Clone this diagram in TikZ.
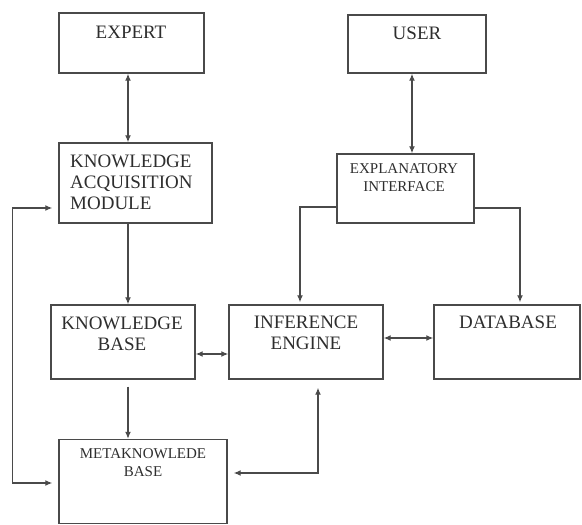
\documentclass[tikz,border=0pt]{standalone}
\usepackage{fontspec}
\setmainfont{Liberation Serif}
\usetikzlibrary{arrows.meta}
\definecolor{ln}{HTML}{4A4A4A}
\definecolor{tx}{HTML}{2E2E2E}
\begin{document}
\begin{tikzpicture}[x=1pt,y=-1pt,
  box/.style={draw=ln,line width=1.4pt,rectangle,inner sep=0pt},
  bigtxt/.style={text=tx,inner sep=0pt,font=\fontsize{19}{21}\selectfont},
  smalltxt/.style={text=tx,inner sep=0pt,font=\fontsize{15}{18}\selectfont},
  conn/.style={draw=ln,line width=1.3pt,>={Latex[length=7pt,width=6pt]}}]
\useasboundingbox (0,0) rectangle (582,525);
% boxes
\node[box,minimum width=145pt,minimum height=60pt] (expert) at (131.5,43) {};
\node[box,minimum width=138pt,minimum height=58pt] (user) at (417,44) {};
\node[box,minimum width=153pt,minimum height=80pt] (kam) at (135.5,183) {};
\node[box,minimum width=137pt,minimum height=69pt] (expl) at (405.5,188.5) {};
\node[box,minimum width=144pt,minimum height=74pt] (kb) at (123,342) {};
\node[box,minimum width=154pt,minimum height=74pt] (ie) at (306,342) {};
\node[box,minimum width=146pt,minimum height=74pt] (db) at (507,342) {};
\node[box,minimum width=168pt,minimum height=84pt] (mkb) at (143,481.5) {};
% texts
\node[bigtxt] (texpert) at (131,32) {EXPERT};
\node[bigtxt] (tuser) at (417,33) {USER};
\node[bigtxt,align=left,anchor=west] (tkam) at (70,182) {KNOWLEDGE\\ACQUISITION\\MODULE};
\node[smalltxt,align=center] (texpl) at (404,178) {EXPLANATORY\\INTERFACE};
\node[bigtxt,align=center] (tkb) at (122,333.5) {KNOWLEDGE\\BASE};
\node[bigtxt,align=center] (tie) at (306,332.5) {INFERENCE\\ENGINE};
\node[bigtxt] (tdb) at (508,322) {DATABASE};
\node[smalltxt,align=center] (tmkb) at (143,463) {METAKNOWLEDE\\BASE};
% helper coordinates
\coordinate (lx) at (128,0);
\coordinate (ux) at (412,0);
% connectors
\draw[conn,<->] (expert.south -| lx) -- (kam.north -| lx);
\draw[conn,<->] (user.south -| ux) -- (expl.north -| ux);
\draw[conn,->] (kam.south -| lx) -- (kb.north -| lx);
\draw[conn,->,shorten <=7pt] (kb.south -| lx) -- (mkb.north -| lx);
\draw[conn,<->,shorten <=6pt,shorten >=6pt] ([yshift=-25pt]kam.west) -- ++(-46,0) |- ([yshift=-1.5pt]mkb.west);
\draw[conn,->,shorten >=2pt] ([yshift=-18.5pt]expl.west) -| ([xshift=-6pt]ie.north);
\draw[conn,->,shorten >=2pt] ([yshift=-19.5pt]expl.east) -| ([xshift=13pt]db.north);
\draw[conn,<->] ([yshift=-12pt]kb.east) -- ([yshift=-12pt]kb.east -| ie.west);
\draw[conn,<->] ([yshift=4pt]ie.east) -- ([yshift=4pt]ie.east -| db.west);
\draw[conn,<->,shorten <=6pt,shorten >=8pt] ([yshift=8.5pt]mkb.east) -| ([xshift=12pt]ie.south);
\end{tikzpicture}
\end{document}
